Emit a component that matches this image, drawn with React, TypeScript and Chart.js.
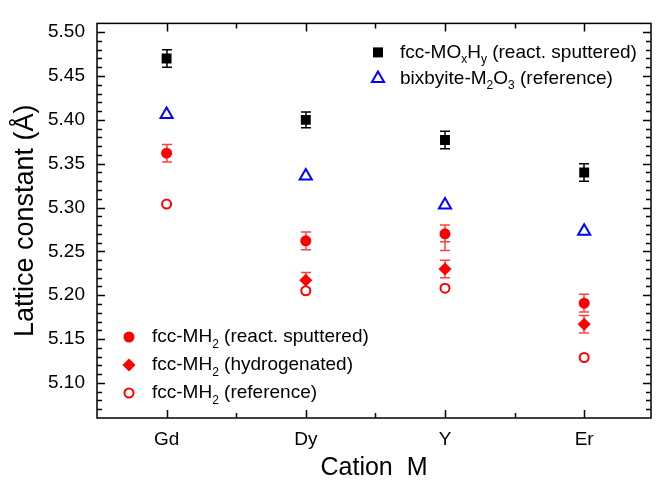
import React, { useEffect, useRef } from 'react';
import { Chart, registerables } from 'chart.js';

Chart.register(...registerables);

// ---------- data ----------
const categories = ['Gd', 'Dy', 'Y', 'Er'];
const yTickValues = [5.1, 5.15, 5.2, 5.25, 5.3, 5.35, 5.4, 5.45, 5.5];

const fccMOxHy = [5.47, 5.4, 5.377, 5.34];
const fccMOxHyErr = [0.01, 0.009, 0.01, 0.01];

const bixbyiteM2O3 = [5.406, 5.336, 5.303, 5.273];

const fccMH2Sputtered = [5.362, 5.262, 5.27, 5.191];
const fccMH2SputteredErrPlus = [0.01, 0.01, 0.01, 0.01];
const fccMH2SputteredErrMinus = [0.01, 0.01, 0.019, 0.01];
const fccMH2SputteredInnerCap = [null, null, 0.009, null];

const fccMH2Hydrogenated = [null, 5.217, 5.23, 5.167];
const fccMH2HydrogenatedErr = [null, 0.009, 0.01, 0.01];

const fccMH2Reference = [5.304, 5.205, 5.208, 5.129];

// ---------- styling constants ----------
const FONT = '"Liberation Sans", Arial, Helvetica, sans-serif';
const RED = '#ff0000';
const RED_ERR = 'rgba(255,0,0,0.75)';
const BLUE = '#0000ff';
const Y_MIN = 5.06;
const Y_MAX = 5.51;
const X_MIN = -0.5;
const X_MAX = 3.48;

type Part = { t: string; sub?: boolean };
type LegendEntry = { marker: string; parts: Part[] };

const legendTop: LegendEntry[] = [
  { marker: 'square', parts: [{ t: 'fcc-MO' }, { t: 'x', sub: true }, { t: 'H' }, { t: 'y', sub: true }, { t: ' (react. sputtered)' }] },
  { marker: 'triangle', parts: [{ t: 'bixbyite-M' }, { t: '2', sub: true }, { t: 'O' }, { t: '3', sub: true }, { t: ' (reference)' }] },
];
const legendBottom: LegendEntry[] = [
  { marker: 'circle', parts: [{ t: 'fcc-MH' }, { t: '2', sub: true }, { t: ' (react. sputtered)' }] },
  { marker: 'diamond', parts: [{ t: 'fcc-MH' }, { t: '2', sub: true }, { t: ' (hydrogenated)' }] },
  { marker: 'openCircle', parts: [{ t: 'fcc-MH' }, { t: '2', sub: true }, { t: ' (reference)' }] },
];

function toPoints(arr: (number | null)[]) {
  return arr.map((v, i) => ({ x: i, y: v }));
}

function drawMarker(ctx: CanvasRenderingContext2D, kind: string, x: number, y: number) {
  ctx.save();
  ctx.beginPath();
  if (kind === 'square') {
    ctx.fillStyle = '#000';
    ctx.fillRect(x - 5, y - 5, 10, 10);
  } else if (kind === 'triangle') {
    const r = 7;
    ctx.moveTo(x, y - r);
    ctx.lineTo(x + r * Math.sin((2 * Math.PI) / 3), y - r * Math.cos((2 * Math.PI) / 3));
    ctx.lineTo(x - r * Math.sin((2 * Math.PI) / 3), y - r * Math.cos((2 * Math.PI) / 3));
    ctx.closePath();
    ctx.fillStyle = '#fff';
    ctx.fill();
    ctx.strokeStyle = BLUE;
    ctx.lineWidth = 2;
    ctx.stroke();
  } else if (kind === 'circle') {
    ctx.arc(x, y, 5.5, 0, Math.PI * 2);
    ctx.fillStyle = RED;
    ctx.fill();
  } else if (kind === 'diamond') {
    const r = 6.5;
    ctx.moveTo(x, y - r);
    ctx.lineTo(x + r, y);
    ctx.lineTo(x, y + r);
    ctx.lineTo(x - r, y);
    ctx.closePath();
    ctx.fillStyle = RED;
    ctx.fill();
  } else if (kind === 'openCircle') {
    ctx.arc(x, y, 4.5, 0, Math.PI * 2);
    ctx.fillStyle = '#fff';
    ctx.fill();
    ctx.strokeStyle = RED;
    ctx.lineWidth = 2;
    ctx.stroke();
  }
  ctx.restore();
}

function drawRichText(ctx: CanvasRenderingContext2D, parts: Part[], x: number, y: number, size: number) {
  let cx = x;
  for (const p of parts) {
    const fs = p.sub ? Math.round(size * 0.62) : size;
    ctx.font = `${fs}px ${FONT}`;
    ctx.fillStyle = '#000';
    ctx.textBaseline = 'middle';
    ctx.textAlign = 'left';
    const dy = p.sub ? size * 0.38 : 0;
    ctx.fillText(p.t, cx, y + dy);
    cx += ctx.measureText(p.t).width;
  }
}

const errorBarPlugin = {
  id: 'errorBars',
  beforeDatasetsDraw(chart: any) {
    const ctx: CanvasRenderingContext2D = chart.ctx;
    const xs = chart.scales.x;
    const ys = chart.scales.y;
    chart.data.datasets.forEach((ds: any) => {
      const eb = ds.errorBars;
      if (!eb) return;
      ctx.save();
      ctx.strokeStyle = eb.color;
      ctx.lineWidth = 1.5;
      ds.data.forEach((pt: any, i: number) => {
        if (pt.y == null) return;
        const plus = eb.plus[i];
        const minus = eb.minus[i];
        if (plus == null || minus == null) return;
        const px = Math.round(xs.getPixelForValue(pt.x));
        const yTop = ys.getPixelForValue(pt.y + plus);
        const yBot = ys.getPixelForValue(pt.y - minus);
        const cap = 5;
        ctx.beginPath();
        ctx.moveTo(px, yTop);
        ctx.lineTo(px, yBot);
        ctx.moveTo(px - cap, yTop);
        ctx.lineTo(px + cap, yTop);
        ctx.moveTo(px - cap, yBot);
        ctx.lineTo(px + cap, yBot);
        if (eb.inner && eb.inner[i] != null) {
          const yIn = ys.getPixelForValue(pt.y - eb.inner[i]);
          ctx.moveTo(px - cap, yIn);
          ctx.lineTo(px + cap, yIn);
        }
        ctx.stroke();
      });
      ctx.restore();
    });
  },
};

const framePlugin = {
  id: 'frameTicks',
  afterDatasetsDraw(chart: any) {
    const ctx: CanvasRenderingContext2D = chart.ctx;
    const { left, right, top, bottom } = chart.chartArea;
    const xs = chart.scales.x;
    const ys = chart.scales.y;
    const major = 8;
    const minor = 5;
    ctx.save();
    ctx.strokeStyle = '#000';
    ctx.lineWidth = 1.5;
    ctx.beginPath();
    const k0 = Math.round(Y_MIN * 100);
    const k1 = Math.round(Y_MAX * 100);
    for (let k = k0 + 1; k < k1; k++) {
      const py = Math.round(ys.getPixelForValue(k / 100)) + 0.5;
      const len = k % 5 === 0 ? major : minor;
      ctx.moveTo(left, py);
      ctx.lineTo(left + len, py);
      ctx.moveTo(right, py);
      ctx.lineTo(right - len, py);
    }
    for (let h = Math.ceil(X_MIN * 2) + 1; h <= Math.floor(X_MAX * 2); h++) {
      const v = h / 2;
      const px = Math.round(xs.getPixelForValue(v)) + 0.5;
      const len = h % 2 === 0 ? major : minor;
      ctx.moveTo(px, bottom);
      ctx.lineTo(px, bottom - len);
      ctx.moveTo(px, top);
      ctx.lineTo(px, top + len);
    }
    ctx.stroke();
    ctx.lineWidth = 1.5;
    ctx.strokeRect(left, top, right - left, bottom - top);
    ctx.restore();
  },
  afterDraw(chart: any) {
    const ctx: CanvasRenderingContext2D = chart.ctx;
    const { left, top, bottom } = chart.chartArea;
    const size = 19;
    legendTop.forEach((e, i) => {
      const y = top + 29 + i * 26;
      drawMarker(ctx, e.marker, left + 281, y);
      drawRichText(ctx, e.parts, left + 303, y, size);
    });
    legendBottom.forEach((e, i) => {
      const y = bottom - 81 + i * 28;
      drawMarker(ctx, e.marker, left + 32, y);
      drawRichText(ctx, e.parts, left + 55, y, size);
    });
  },
};

export default function App() {
  const canvasRef = useRef<HTMLCanvasElement | null>(null);

  useEffect(() => {
    document.body.style.margin = '0';
    const canvas = canvasRef.current;
    if (!canvas) return;
    const chart = new Chart(canvas, {
      type: 'scatter',
      data: {
        datasets: [
          {
            label: 'fcc-MOxHy (react. sputtered)',
            data: toPoints(fccMOxHy),
            pointStyle: 'rect',
            pointRadius: 7,
            pointBackgroundColor: '#000',
            pointBorderColor: '#000',
            pointBorderWidth: 0,
            errorBars: { plus: fccMOxHyErr, minus: fccMOxHyErr, color: '#000' },
          } as any,
          {
            label: 'bixbyite-M2O3 (reference)',
            data: toPoints(bixbyiteM2O3),
            pointStyle: 'triangle',
            pointRadius: 7,
            pointBackgroundColor: '#fff',
            pointBorderColor: BLUE,
            pointBorderWidth: 2,
          },
          {
            label: 'fcc-MH2 (react. sputtered)',
            data: toPoints(fccMH2Sputtered),
            pointStyle: 'circle',
            pointRadius: 5.5,
            pointBackgroundColor: RED,
            pointBorderColor: RED,
            pointBorderWidth: 0,
            errorBars: {
              plus: fccMH2SputteredErrPlus,
              minus: fccMH2SputteredErrMinus,
              inner: fccMH2SputteredInnerCap,
              color: RED_ERR,
            },
          } as any,
          {
            label: 'fcc-MH2 (hydrogenated)',
            data: toPoints(fccMH2Hydrogenated),
            pointStyle: 'rectRot',
            pointRadius: 6.5,
            pointBackgroundColor: RED,
            pointBorderColor: RED,
            pointBorderWidth: 0,
            errorBars: { plus: fccMH2HydrogenatedErr, minus: fccMH2HydrogenatedErr, color: RED_ERR },
          } as any,
          {
            label: 'fcc-MH2 (reference)',
            data: toPoints(fccMH2Reference),
            pointStyle: 'circle',
            pointRadius: 4.5,
            pointBackgroundColor: '#fff',
            pointBorderColor: RED,
            pointBorderWidth: 2,
          },
        ],
      },
      options: {
        animation: false,
        responsive: false,
        devicePixelRatio: 1,
        layout: { padding: { top: 12, right: 5, left: 0, bottom: 0 } },
        plugins: {
          legend: { display: false },
          tooltip: { enabled: false },
        },
        scales: {
          x: {
            type: 'linear',
            min: X_MIN,
            max: X_MAX,
            grid: { display: false, drawTicks: false },
            border: { display: false },
            afterBuildTicks: (s: any) => {
              s.ticks = categories.map((_, i) => ({ value: i }));
            },
            afterFit: (s: any) => {
              s.height = 67;
            },
            ticks: {
              autoSkip: false,
              maxRotation: 0,
              padding: 10,
              color: '#000',
              font: { family: FONT, size: 19 },
              callback: (v: any) => categories[Math.round(Number(v))] ?? '',
            },
            title: {
              display: true,
              text: 'Cation  M',
              color: '#000',
              font: { family: FONT, size: 25 },
              padding: { top: 0, bottom: 2 },
            },
          },
          y: {
            type: 'linear',
            min: Y_MIN,
            max: Y_MAX,
            grid: { display: false, drawTicks: false },
            border: { display: false },
            afterBuildTicks: (s: any) => {
              s.ticks = yTickValues.map((v) => ({ value: v }));
            },
            afterFit: (s: any) => {
              s.width = 97;
            },
            ticks: {
              padding: 12,
              color: '#000',
              font: { family: FONT, size: 19 },
              callback: (v: any) => Number(v).toFixed(2),
            },
            title: {
              display: true,
              text: 'Lattice constant (Å)',
              color: '#000',
              font: { family: FONT, size: 27 },
              padding: { top: 9, bottom: 0 },
            },
          },
        },
      } as any,
      plugins: [errorBarPlugin, framePlugin],
    });
    return () => chart.destroy();
  }, []);

  return (
    <div style={{ width: 660, height: 485, background: '#fff' }}>
      <canvas ref={canvasRef} width={660} height={485} style={{ display: 'block' }} />
    </div>
  );
}
